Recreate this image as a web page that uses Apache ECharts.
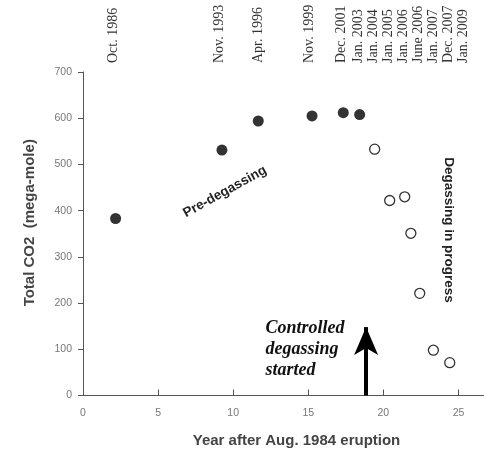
<!DOCTYPE html>
<html>
<head>
<meta charset="utf-8">
<script src="https://cdn.jsdelivr.net/npm/echarts@6/dist/echarts.min.js"></script>
<style>html,body{margin:0;padding:0;background:#fff}#c{width:484px;height:453px}</style>
</head>
<body>
<div id="c"></div>
<script>
// Pre-degassing (filled) measurements: years after Aug. 1984, total CO2 (mega-mole)
const preYears = [2.17, 9.25, 11.67, 15.25, 17.33, 18.42];
const preCO2   = [383, 531, 594, 605, 612, 608];
// Degassing in progress (open)
const postYears = [19.42, 20.42, 21.42, 21.83, 22.42, 23.33, 24.42];
const postCO2   = [533, 422, 430, 351, 221, 98, 71];
// Top date labels and where they sit along the year axis
const dateLabels = ["Oct. 1986","Nov. 1993","Apr. 1996","Nov. 1999","Dec. 2001","Jan. 2003","Jan. 2004","Jan. 2005","Jan. 2006","June 2006","Jan. 2007","Dec. 2007","Jan. 2009"];
const dateLabelYears = [2.0, 9.1, 11.65, 15.1, 17.2, 18.3, 19.3, 20.3, 21.3, 22.3, 23.3, 24.3, 25.3];
// Controlled degassing start
const degasStartYear = 18.85;
const arrowTop = 148;

const chart = echarts.init(document.getElementById('c'), null, {renderer: 'canvas'});
const gray = '#555';
const option = {
  animation: false,
  backgroundColor: '#fff',
  grid: {left: 83, right: 0, top: 72, bottom: 57.5, containLabel: false, outerBoundsMode: 'none'},
  xAxis: [{
    type: 'value', min: 0, max: 26.7, interval: 5,
    name: 'Year after Aug. 1984 eruption', nameLocation: 'middle', nameGap: 38,
    nameTextStyle: {fontFamily: 'Liberation Sans, Arial', fontWeight: 'bold', fontSize: 15, color: '#444', padding: [0, 0, 0, 26]},
    axisLine: {lineStyle: {color: gray, width: 1}},
    axisTick: {inside: true, length: 6, lineStyle: {color: gray}},
    axisLabel: {color: '#777', fontFamily: 'Liberation Sans, Arial', fontSize: 10.5, margin: 12, showMaxLabel: false},
    splitLine: {show: false}
  }, {
    type: 'value', min: 0, max: 26.7, position: 'top',
    axisLine: {show: false}, axisTick: {show: false}, splitLine: {show: false},
    axisLabel: {
      customValues: dateLabelYears, rotate: -90, margin: 9,
      color: '#333', fontFamily: 'Liberation Serif, Times New Roman', fontSize: 14,
      formatter: function (v) {
        let best = 0, d = 1e9;
        dateLabelYears.forEach(function (y, i) { if (Math.abs(y - v) < d) { d = Math.abs(y - v); best = i; } });
        return dateLabels[best];
      }
    }
  }],
  yAxis: {
    type: 'value', min: 0, max: 700, interval: 100,
    name: 'Total CO2  (mega-mole)', nameLocation: 'middle', nameGap: 46, nameRotate: 90,
    nameTextStyle: {fontFamily: 'Liberation Sans, Arial', fontWeight: 'bold', fontSize: 15, color: '#444', padding: [0, 0, 0, 22]},
    axisLine: {show: true, lineStyle: {color: gray, width: 1}},
    axisTick: {show: true, length: 5, lineStyle: {color: gray}},
    axisLabel: {color: '#777', fontFamily: 'Liberation Sans, Arial', fontSize: 10.5, margin: 11},
    splitLine: {show: false}
  },
  series: [{
    type: 'scatter', xAxisIndex: 0,
    data: preYears.map(function (x, i) { return [x, preCO2[i]]; }),
    symbol: 'circle', symbolSize: 11,
    itemStyle: {color: '#333', opacity: 1},
    markPoint: {
      symbol: 'circle', symbolSize: 0, silent: true,
      data: [
        {coord: [9.45, 441], label: {show: true, formatter: 'Pre-degassing', rotate: 29, fontFamily: 'Liberation Sans, Arial', fontWeight: 'bold', fontSize: 13.5, color: '#222', position: 'inside'}},
        {coord: [24.35, 358], label: {show: true, formatter: 'Degassing in progress', rotate: -90, fontFamily: 'Liberation Sans, Arial', fontWeight: 'bold', fontSize: 13.5, color: '#222', position: 'inside'}},
        {coord: [12.15, 100], label: {show: true, formatter: 'Controlled\ndegassing\nstarted', position: 'right', distance: 0, align: 'left', lineHeight: 21, fontFamily: 'Liberation Serif, Times New Roman', fontWeight: 'bold', fontStyle: 'italic', fontSize: 18, color: '#111'}}
      ]
    },
    markLine: {
      silent: true, symbol: ['none', 'arrow'], symbolSize: [18, 28],
      lineStyle: {color: '#000', width: 4, type: 'solid'},
      label: {show: false},
      data: [[{coord: [degasStartYear, 0]}, {coord: [degasStartYear, arrowTop]}]]
    }
  }, {
    type: 'scatter', xAxisIndex: 0,
    data: postYears.map(function (x, i) { return [x, postCO2[i]]; }),
    symbol: 'circle', symbolSize: 10,
    itemStyle: {color: '#fff', borderColor: '#333', borderWidth: 1.3, opacity: 1}
  }]
};
chart.setOption(option);
</script>
</body>
</html>
